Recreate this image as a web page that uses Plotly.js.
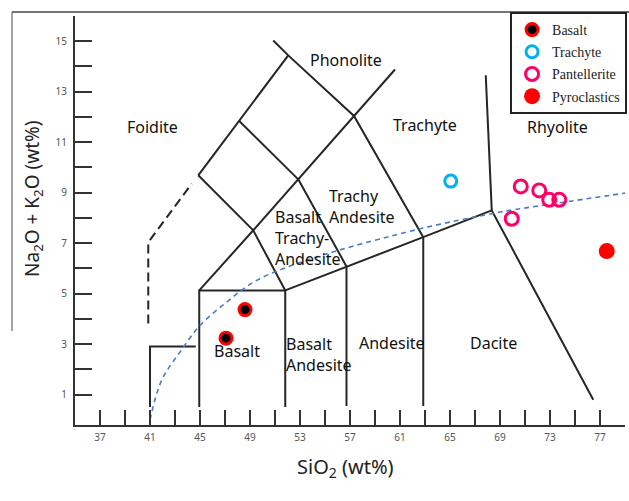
<!DOCTYPE html>
<html><head><meta charset="utf-8">
<script src="https://cdn.plot.ly/plotly-3.0.1.min.js"></script>
<style>html,body{margin:0;padding:0;background:#fff}</style>
</head><body><div id="chart" style="width:629px;height:501px"></div>
<script>
// ---- sample data (SiO2 wt%, Na2O+K2O wt%) ----
const basaltSiO2 = [48.6, 47.08];
const basaltAlk = [4.37, 3.24];
const trachyteSiO2 = [65.06];
const trachyteAlk = [9.46];
const pantelleriteSiO2 = [70.66, 72.14, 72.94, 73.74, 69.94];
const pantelleriteAlk = [9.25, 9.09, 8.72, 8.72, 7.97];
const pyroSiO2 = [77.54];
const pyroAlk = [6.69];

// ---- TAS field boundaries (as drawn in the figure) ----
const fieldLines = [
  [[41, 0.51], [41, 2.91], [44.66, 2.91]],
  [[44.94, 0.51], [44.94, 5.13], [51.82, 5.13], [51.82, 0.51]],
  [[44.94, 5.13], [49.26, 7.51], [51.82, 5.13]],
  [[44.86, 9.69], [49.26, 7.51]],
  [[44.86, 9.69], [48.14, 11.84], [52.06, 14.44]],
  [[48.14, 11.84], [52.86, 9.53]],
  [[49.26, 7.51], [52.86, 9.53], [57.32, 12.04], [60.6, 13.88]],
  [[50.86, 15.03], [52.06, 14.44], [57.32, 12.04], [62.86, 7.24]],
  [[52.86, 9.53], [56.72, 6.08]],
  [[51.82, 5.13], [56.72, 6.08], [62.86, 7.24], [68.34, 8.30]],
  [[56.72, 6.08], [56.72, 0.55]],
  [[62.86, 7.24], [62.86, 0.55]],
  [[67.86, 13.65], [68.34, 8.30], [76.46, 0.80]]
];
const dashedLine = [[40.86, 3.82], [40.86, 7.04], [44.34, 9.36]];
// alkaline / subalkaline divide (blue dashed)
const divideSiO2 = [41, 41.93, 43.4, 45, 47.14, 49.54, 54, 62.6, 68.34, 69.8, 79.2];
const divideAlk = [0.0, 1.57, 2.69, 3.74, 4.67, 5.53, 6.4, 7.57, 8.17, 8.30, 9.0];

// ---- field labels ----
const labelText = ['Foidite', 'Phonolite', 'Trachyte', 'Rhyolite', 'Trachy<br>Andesite',
  'Basalt<br>Trachy-<br>Andesite', 'Basalt', 'Basalt<br>Andesite', 'Andesite', 'Dacite'];
const labelX = [41.16, 56.68, 63.0, 73.6, 55.14, 50.86, 47.94, 51.72, 60.36, 68.44];
const labelY = [11.62, 14.24, 11.69, 11.6, 8.46, 7.19, 2.75, 2.6, 3.03, 3.03];
const labelAnchor = ['center', 'center', 'center', 'center', 'left', 'left', 'center', 'left', 'center', 'center'];

// ---- axes ticks ----
const xTickVals = [37, 41, 45, 49, 53, 57, 61, 65, 69, 73, 77];
const xMinorVals = [39, 43, 47, 51, 55, 59, 63, 67, 71, 75, 79];
const yTickVals = [1, 3, 5, 7, 9, 11, 13, 15];
const yMinorVals = [2, 4, 6, 8, 10, 12, 14, 16];

function flatten(lines) {
  const xs = [], ys = [];
  lines.forEach(seg => { seg.forEach(p => { xs.push(p[0]); ys.push(p[1]); }); xs.push(null); ys.push(null); });
  return { xs, ys };
}
const solid = flatten(fieldLines);

const traces = [
  { x: solid.xs, y: solid.ys, mode: 'lines', line: { color: '#262626', width: 2 }, showlegend: false, hoverinfo: 'skip' },
  { x: dashedLine.map(p => p[0]), y: dashedLine.map(p => p[1]), mode: 'lines',
    line: { color: '#262626', width: 2, dash: '9px,5px' }, showlegend: false, hoverinfo: 'skip' },
  { x: divideSiO2, y: divideAlk, mode: 'lines',
    line: { color: '#4a7cc4', width: 1.6, dash: '5px,4px', shape: 'spline', smoothing: 1 }, showlegend: false, hoverinfo: 'skip' },
  { x: basaltSiO2, y: basaltAlk, mode: 'markers', name: 'Basalt', legendgroup: 'a',
    marker: { symbol: 'circle', size: 12, color: '#000000', line: { color: '#ff0000', width: 3 } } },
  { x: trachyteSiO2, y: trachyteAlk, mode: 'markers', name: 'Trachyte', legendgroup: 'b',
    marker: { symbol: 'circle-open', size: 12, color: '#00b0f0', line: { color: '#00b0f0', width: 3 } } },
  { x: pantelleriteSiO2, y: pantelleriteAlk, mode: 'markers', name: 'Pantellerite', legendgroup: 'c',
    marker: { symbol: 'circle-open', size: 13, color: '#ff0066', line: { color: '#ff0066', width: 3 } } },
  { x: pyroSiO2, y: pyroAlk, mode: 'markers', name: 'Pyroclastics', legendgroup: 'd',
    marker: { symbol: 'circle', size: 16, color: '#ff0000' } }
];

const annotations = labelText.map((t, i) => ({
  x: labelX[i], y: labelY[i], xref: 'x', yref: 'y', text: t, showarrow: false,
  xanchor: labelAnchor[i], yanchor: 'middle', align: 'left',
  font: { family: 'Noto Sans', size: 16, color: '#111' }
}));
annotations.push({
  xref: 'paper', yref: 'paper', x: 0.491, y: -0.105, text: 'SiO<sub>2</sub> (wt%)', showarrow: false,
  xanchor: 'center', yanchor: 'middle', font: { family: 'Noto Sans', size: 20, color: '#222' }
});
annotations.push({
  xref: 'paper', yref: 'paper', x: -0.0764, y: 0.5526, text: 'Na<sub>2</sub>O + K<sub>2</sub>O (wt%)', showarrow: false,
  textangle: -90, xanchor: 'center', yanchor: 'middle', font: { family: 'Noto Sans', size: 19, color: '#222' }
});

const layout = {
  width: 629, height: 501,
  margin: { l: 75, r: 4, t: 16, b: 76, autoexpand: false },
  paper_bgcolor: '#ffffff', plot_bgcolor: '#ffffff',
  showlegend: true,
  xaxis: {
    range: [35, 79], showline: true, linecolor: '#333', linewidth: 2,
    ticks: 'inside', ticklen: 15, tickwidth: 2, tickcolor: '#333',
    tickmode: 'array', tickvals: xTickVals,
    minor: { tickmode: 'array', tickvals: xMinorVals, ticks: 'inside', ticklen: 15, tickwidth: 2, tickcolor: '#333', showgrid: false },
    tickfont: { family: 'Noto Sans', size: 10, color: '#555' },
    showgrid: false, zeroline: false, ticklabelstandoff: 2, automargin: false
  },
  yaxis: {
    range: [-0.2, 16], showline: true, linecolor: '#333', linewidth: 2,
    ticks: 'inside', ticklen: 17, tickwidth: 2, tickcolor: '#333',
    tickmode: 'array', tickvals: yTickVals,
    minor: { tickmode: 'array', tickvals: yMinorVals, ticks: 'inside', ticklen: 17, tickwidth: 2, tickcolor: '#333', showgrid: false },
    tickfont: { family: 'Noto Sans', size: 10, color: '#555' },
    showgrid: false, zeroline: false, ticklabelstandoff: 4, automargin: false
  },
  legend: {
    x: 0.791, y: 1.0098, xanchor: 'left', yanchor: 'top',
    bgcolor: '#ffffff', bordercolor: '#222', borderwidth: 2,
    font: { family: 'Liberation Serif', size: 14, color: '#222' },
    tracegroupgap: 1, itemsizing: 'trace'
  },
  shapes: [
    { type: 'line', xref: 'paper', yref: 'paper', x0: -0.1145, x1: 1.01, y0: 1.0098, y1: 1.0098,
      line: { color: '#444', width: 1.5 } },
    { type: 'line', xref: 'paper', yref: 'paper', x0: -0.1145, x1: -0.1145, y0: 1.0098, y1: 0.23,
      line: { color: '#666', width: 1.2 } }
  ],
  annotations: annotations
};

Plotly.newPlot('chart', traces, layout, { displayModeBar: false, staticPlot: true });
</script></body></html>
